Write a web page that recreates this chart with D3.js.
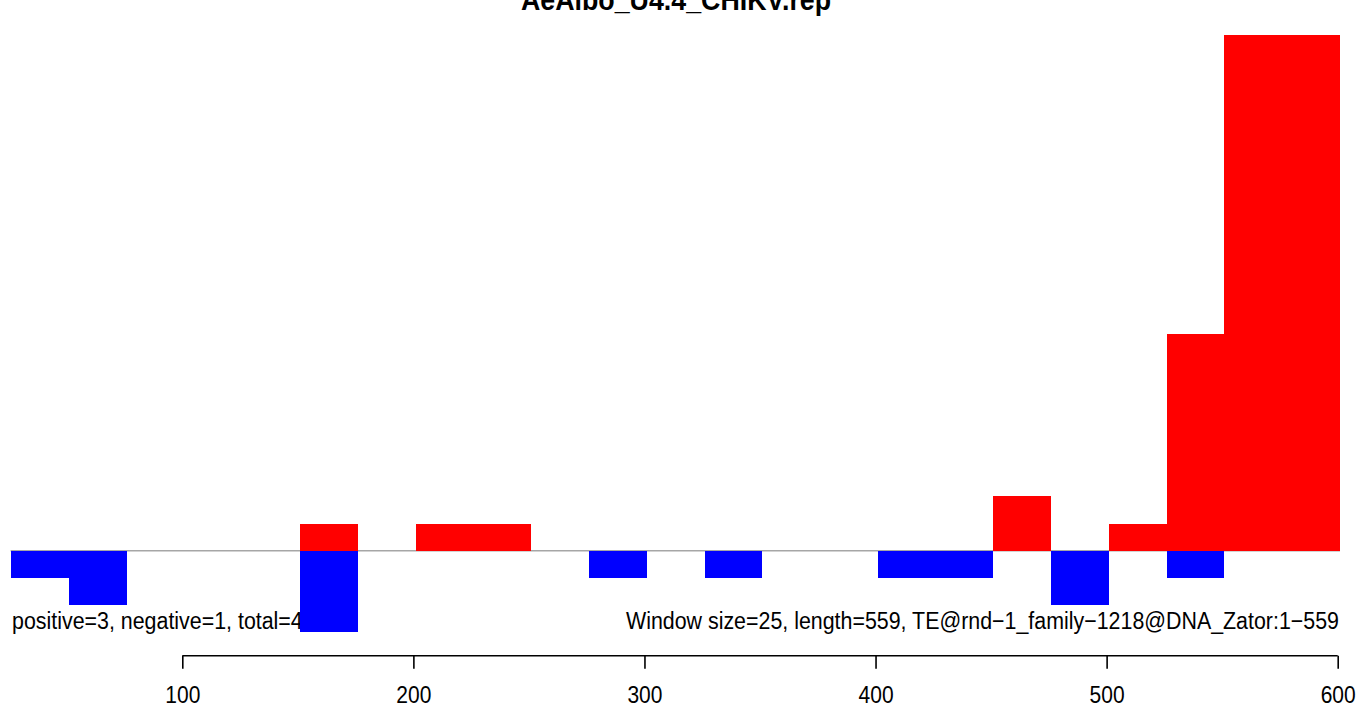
<!DOCTYPE html>
<html>
<head>
<meta charset="utf-8">
<script src="https://cdn.jsdelivr.net/npm/d3@7"></script>
<style>
  html, body { margin: 0; padding: 0; background: #fff; }
  svg { display: block; }
  text { font-family: "Liberation Sans", Arial, Helvetica, sans-serif; fill: #000; }
</style>
</head>
<body>
<svg id="chart" width="1358" height="707"></svg>
<script>
// ---- data ----
const title = "AeAlbo_U4.4_CHIKV.rep";
const windowSize = 25;
const windowStarts = [26, 51, 76, 101, 126, 151, 176, 201, 226, 251, 276, 301, 326, 351, 376, 401, 426, 451, 476, 501, 526, 551, 576];
const positiveCounts = [0, 0, 0, 0, 0, 1, 0, 1, 1, 0, 0, 0, 0, 0, 0, 0, 0, 2, 0, 1, 8, 19, 19];
const negativeCounts = [-1, -2, 0, 0, 0, -3, 0, 0, 0, 0, -1, 0, -1, 0, 0, -1, -1, 0, -2, 0, -1, 0, 0];
const xTicks = [100, 200, 300, 400, 500, 600];
const leftNote = "positive=3, negative=1, total=4";
const rightNote = "Window size=25, length=559, TE@rnd\u22121_family\u22121218@DNA_Zator:1\u2212559";

// ---- scales ----
const svg = d3.select("#chart");
const x = d3.scaleLinear().domain([100, 600]).range([182.3, 1337.7]);
const y = d3.scaleLinear().domain([0, 19]).range([550.7, 35]);

const sy = 1.1; // vertical glyph stretch of the reference

// baseline
svg.append("line")
  .attr("x1", x(windowStarts[0]) - 0.7)
  .attr("x2", x(windowStarts[windowStarts.length - 1] + windowSize))
  .attr("y1", y(0)).attr("y2", y(0))
  .attr("stroke", "#a6a6a6").attr("stroke-width", 1.6);

const data = windowStarts.map((s, i) => ({ s, pos: positiveCounts[i], neg: negativeCounts[i] }));

// notes (drawn before bars so bars overlap like the reference)
svg.append("text")
  .attr("transform", `translate(12,629) scale(1,${sy})`)
  .style("font-size", "21.4px")
  .text(leftNote);
svg.append("text")
  .attr("transform", `translate(1339,629) scale(1,${sy})`)
  .attr("text-anchor", "end")
  .style("font-size", "21.4px")
  .text(rightNote);

svg.append("g").selectAll("rect").data(data.filter(d => d.pos > 0)).join("rect")
  .attr("x", d => x(d.s)).attr("width", d => x(d.s + windowSize) - x(d.s))
  .attr("y", d => y(d.pos)).attr("height", d => y(0) - y(d.pos))
  .attr("fill", "#ff0000").attr("shape-rendering", "crispEdges");

svg.append("g").selectAll("rect").data(data.filter(d => d.neg < 0)).join("rect")
  .attr("x", d => x(d.s)).attr("width", d => x(d.s + windowSize) - x(d.s))
  .attr("y", y(0)).attr("height", d => y(d.neg) - y(0))
  .attr("fill", "#0000ff").attr("shape-rendering", "crispEdges");

// title
svg.append("text")
  .attr("transform", `translate(676,10) scale(1,${sy})`)
  .attr("text-anchor", "middle")
  .style("font-size", "26.8px").style("font-weight", "bold")
  .text(title);

// axis
const axis = d3.axisBottom(x).tickValues(xTicks).tickSize(13).tickPadding(0).tickFormat(d3.format("d"));
const gAxis = svg.append("g").attr("transform", "translate(0,655.7)").call(axis);
gAxis.select(".domain").attr("stroke", "#000").attr("stroke-width", 1.6)
  .attr("d", `M${x(100)},0H${x(600)}`);
gAxis.selectAll(".tick line").attr("stroke", "#000").attr("stroke-width", 1.6);
gAxis.selectAll(".tick text")
  .attr("y", null).attr("dy", null)
  .attr("transform", `translate(0,47.5) scale(1,${sy})`)
  .style("font-size", "21px")
  .style("font-family", "\"Liberation Sans\", Arial, sans-serif")
  .attr("fill", "#000");
</script>
</body>
</html>
